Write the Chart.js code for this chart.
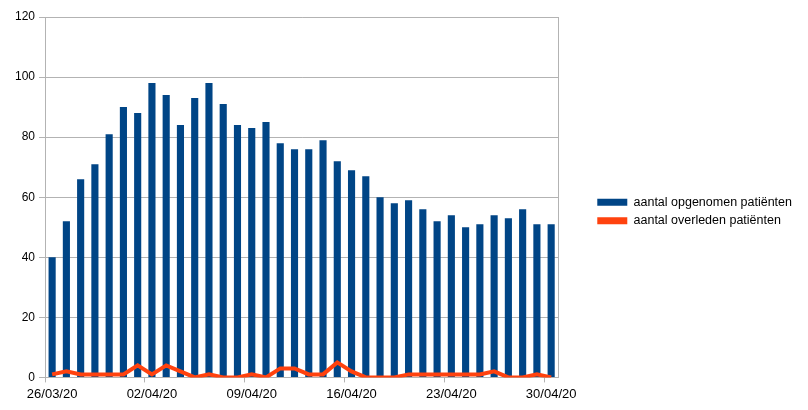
<!DOCTYPE html>
<html>
<head>
<meta charset="utf-8">
<script src="https://cdn.jsdelivr.net/npm/chart.js@4"></script>
<style>
  html, body { margin: 0; padding: 0; background: #fff; }
  #wrap { width: 808px; height: 410px; }
</style>
</head>
<body>
<div id="wrap"><canvas id="grafiek" width="808" height="410"></canvas></div>
<script>
// Datums (26/03/20 t/m 30/04/20)
const datums = [
  '26/03/20','27/03/20','28/03/20','29/03/20','30/03/20','31/03/20','01/04/20',
  '02/04/20','03/04/20','04/04/20','05/04/20','06/04/20','07/04/20','08/04/20',
  '09/04/20','10/04/20','11/04/20','12/04/20','13/04/20','14/04/20','15/04/20',
  '16/04/20','17/04/20','18/04/20','19/04/20','20/04/20','21/04/20','22/04/20',
  '23/04/20','24/04/20','25/04/20','26/04/20','27/04/20','28/04/20','29/04/20',
  '30/04/20'
];

// Aantal opgenomen patiënten per dag
const opgenomen = [40, 52, 66, 71, 81, 90, 88, 98, 94, 84, 93, 98, 91, 84, 83, 85, 78, 76,
  76, 79, 72, 69, 67, 60, 58, 59, 56, 52, 54, 50, 51, 54, 53, 56, 51, 51];

// Aantal overleden patiënten per dag
const overleden = [1, 2, 1, 1, 1, 1, 4, 1, 4, 2, 0, 1, 0, 0, 1, 0, 3, 3,
  1, 1, 5, 2, 0, 0, 0, 1, 1, 1, 1, 1, 1, 2, 0, 0, 1, 0];

const yTicks = [0, 20, 40, 60, 80, 100, 120];

const grijs = '#b3b3b3';

const ctx = document.getElementById('grafiek').getContext('2d');
new Chart(ctx, {
  type: 'bar',
  data: {
    labels: datums,
    datasets: [{
      label: 'aantal opgenomen patiënten',
      data: opgenomen,
      backgroundColor: '#004586',
      borderWidth: 0,
      barPercentage: 0.5,
      categoryPercentage: 1.0,
      order: 2
    }, {
      type: 'line',
      label: 'aantal overleden patiënten',
      data: overleden,
      borderColor: '#ff420e',
      backgroundColor: '#ff420e',
      borderWidth: 4,
      pointRadius: 0,
      tension: 0,
      order: 1
    }]
  },
  options: {
    responsive: false,
    animation: false,
    layout: { padding: { left: 0, right: 6, top: 17, bottom: 4 } },
    plugins: {
      tooltip: { enabled: false },
      legend: {
        position: 'right',
        maxWidth: 300,
        labels: {
          color: '#000',
          font: { family: 'Liberation Sans', size: 12.5 },
          boxWidth: 30,
          boxHeight: 7,
          padding: 6,
          sort: (a, b) => a.datasetIndex - b.datasetIndex,
          generateLabels: chart => {
            const items = Chart.defaults.plugins.legend.labels.generateLabels(chart);
            items.forEach(i => { i.lineWidth = 0; });
            return items;
          }
        }
      }
    },
    scales: {
      x: {
        offset: true,
        grid: {
          offset: true,
          drawOnChartArea: false,
          tickLength: 5,
          color: c => (c.index % 7 === 0 ? grijs : 'rgba(0,0,0,0)')
        },
        border: { color: grijs },
        ticks: {
          autoSkip: false,
          maxRotation: 0,
          padding: 4,
          color: '#000',
          font: { family: 'Liberation Sans', size: 13 },
          callback: (v, i) => (i % 7 === 0 ? datums[i] : '')
        }
      },
      y: {
        min: 0,
        max: 120,
        afterBuildTicks: s => { s.ticks = yTicks.map(v => ({ value: v })); },
        afterFit: s => { s.width = 45; },
        grid: { color: grijs, tickLength: 6 },
        border: { color: grijs },
        ticks: { color: '#000', font: { family: 'Liberation Sans', size: 12 }, padding: 4 }
      },
      y2: {
        position: 'right',
        min: 0,
        max: 120,
        afterFit: s => { s.width = 33; },
        grid: { display: false, drawTicks: false },
        border: { color: grijs },
        ticks: { display: false }
      }
    }
  }
});
</script>
</body>
</html>
